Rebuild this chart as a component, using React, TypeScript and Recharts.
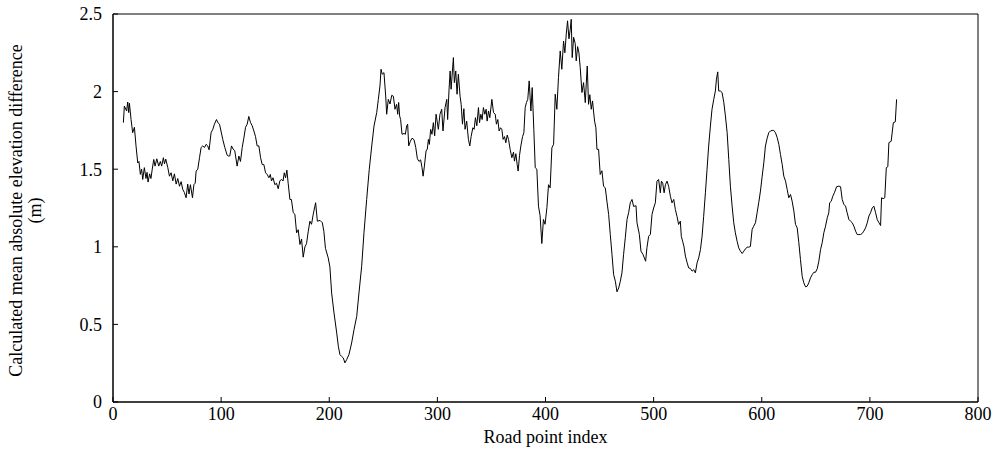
import React from 'react';
import { LineChart, Line, XAxis, YAxis, ReferenceArea } from 'recharts';

// road point index (x) and calculated mean absolute elevation difference in m (y)
const roadPointIndex = [
  9.6, 10.5, 12.6, 13.6, 14.5, 15.2, 16.7, 18.2, 19.8, 21.3, 22.9, 24, 25.3, 26.5, 27.5, 29, 30.5, 31.5, 32.4, 33.9,
  35.1, 36.3, 37.7, 38.9, 40.5, 42.3, 43.8, 45, 46.6, 47.6, 48.8, 50.7, 52.2, 53.7, 55.3, 56.8, 58.4, 59.9, 61.5, 63,
  64.5, 66, 67.6, 69.1, 70.3, 71.6, 73.5, 74.8, 76, 76.9, 78.4, 80, 81.5, 83, 84.6, 86.1, 87.6, 88.9, 90.7, 92.3,
  93.8, 95.7, 97, 98.5, 101.6, 103.4, 105.6, 106.5, 108, 109.6, 111, 112.6, 114.8, 116.4, 117.9, 119.5, 121, 122.6, 124.1, 125.6,
  127.2, 128.7, 130.3, 131.8, 133.3, 134.9, 136.5, 138, 139.5, 141.1, 142.6, 144.2, 145.5, 146.6, 148, 149.7, 151.2, 152.8, 154.3, 155.8,
  157.3, 158.4, 159.6, 160.8, 162, 163.6, 165, 166.7, 168.2, 169.8, 171.3, 172.9, 174.4, 175.9, 177.5, 179, 180.6, 182.1, 183.6, 185.2,
  187.4, 189, 191.5, 193.6, 195, 196.5, 199, 200.6, 202.2, 204.4, 206.9, 208.4, 209.9, 211.4, 213, 214.5, 216.1, 218.2, 220.7, 222.9,
  225.4, 227.5, 230, 232.1, 234.6, 237, 239.3, 241.4, 243.9, 245.4, 246.9, 247.9, 249, 250.6, 252.2, 253.1, 254.6, 256.2, 257.8, 259.3,
  260.8, 262.3, 263.3, 264.2, 265.1, 266, 267.3, 269.2, 270.4, 271.6, 272.5, 273.5, 275, 276.6, 278.4, 280, 281.5, 283, 284.5, 285.8,
  286.8, 288, 289.5, 290.7, 291.7, 292.6, 293.8, 295, 296.3, 297.5, 298.8, 300.9, 302.4, 304, 305.2, 307.1, 308.7, 309.5, 310.8, 311.8,
  312.7, 314.8, 315.7, 317, 318.2, 319.4, 321, 322, 323.2, 324.5, 325.6, 327.1, 328.7, 330, 331.2, 332.8, 334, 335.2, 336.5, 338,
  339, 340.2, 341.4, 342.6, 343.9, 345.1, 346, 347.3, 348.5, 350.4, 351.9, 353.5, 354.6, 355.9, 357.1, 358.4, 359.6, 360.8, 362.1, 363.3,
  364.6, 365.8, 367.3, 368.9, 370.4, 371.3, 372.6, 373.8, 374.7, 376, 377.2, 378.8, 380, 381.2, 382.4, 383.6, 384.9, 386.5, 387.7, 389.2,
  390.5, 392, 393.5, 395, 396.6, 398.1, 399.6, 401.3, 402.8, 404.3, 405.9, 407.5, 409, 410.5, 412, 413.6, 415.1, 416.7, 417.9, 419.2,
  420.4, 421.7, 422.9, 423.8, 424.7, 426, 427.5, 428.4, 429.7, 430.9, 432.1, 433.7, 435.2, 436.8, 437.7, 438.6, 439.8, 441, 442.3, 443.5,
  444.4, 445.4, 446.6, 447.6, 449.1, 450.6, 452.2, 453.7, 455.3, 456.8, 458.4, 459.9, 461.5, 463, 464.6, 466.1, 467.7, 469.2, 470.7, 472.2,
  473.8, 475.4, 476.9, 478.4, 480, 481.5, 483.7, 484.6, 486.8, 488.3, 490.2, 492.6, 493.8, 495.4, 497, 498.5, 500, 501.6, 503.1, 504.6,
  506.2, 507.2, 508.4, 509.7, 510.9, 512.4, 513.9, 515.5, 517, 518.6, 520.1, 521.6, 523.1, 524.7, 525.6, 526.8, 528, 529.4, 531, 532.4,
  534, 535.6, 537.1, 538.6, 540.2, 541.7, 543.3, 544.8, 546.3, 547.9, 549.4, 550.9, 552.5, 554, 555.6, 557.1, 558.1, 559.3, 560.2, 561.7,
  563.3, 564.9, 566.4, 568, 569.5, 571, 572.6, 574.1, 575.6, 577.2, 578.7, 580.3, 581.9, 583.4, 584.9, 586.5, 588, 589.5, 591.1, 592.6,
  594.2, 595.7, 597.2, 598.8, 600.4, 601.9, 603.4, 605, 606.5, 608, 609.6, 611.1, 612.7, 614.3, 615.8, 617.3, 618.9, 620.4, 622, 623.5,
  625, 626.6, 628.1, 629.7, 631.2, 632.8, 634.3, 635.8, 637.4, 638.9, 640.5, 642, 643.5, 645.1, 646.7, 648.2, 649.7, 651.3, 652.8, 654.4,
  655.9, 657.4, 659, 660.6, 662, 662.8, 664.3, 665.7, 667.2, 669.2, 671.3, 672.9, 674.4, 676, 677.5, 679, 680.6, 682.1, 683.7, 685.2,
  686.8, 688.3, 689.8, 691.4, 692.9, 694.4, 696, 697.6, 699.1, 700.6, 702.2, 703.7, 705.3, 706.8, 708.4, 709.9, 710.8, 712.3, 713.8, 715.2,
  716.6, 717.6, 719.7, 721.7, 723.5, 724.7,
];

const meanElevationDiff = [
  1.80, 1.907, 1.875, 1.933, 1.865, 1.925, 1.82, 1.735, 1.77, 1.65, 1.54, 1.55, 1.467, 1.50, 1.434, 1.51, 1.44, 1.48, 1.417, 1.47,
  1.44, 1.50, 1.563, 1.52, 1.567, 1.52, 1.55, 1.52, 1.574, 1.535, 1.565, 1.51, 1.455, 1.477, 1.425, 1.47, 1.404, 1.44, 1.39, 1.42,
  1.37, 1.35, 1.316, 1.404, 1.34, 1.40, 1.316, 1.40, 1.41, 1.488, 1.50, 1.574, 1.64, 1.65, 1.64, 1.66, 1.65, 1.625, 1.735, 1.757,
  1.79, 1.82, 1.80, 1.79, 1.69, 1.64, 1.59, 1.585, 1.585, 1.65, 1.63, 1.62, 1.52, 1.585, 1.55, 1.64, 1.70, 1.77, 1.79, 1.84,
  1.80, 1.78, 1.746, 1.71, 1.65, 1.65, 1.574, 1.53, 1.53, 1.477, 1.466, 1.445, 1.466, 1.424, 1.445, 1.40, 1.41, 1.374, 1.424, 1.435,
  1.424, 1.477, 1.445, 1.494, 1.41, 1.305, 1.305, 1.22, 1.21, 1.09, 1.11, 1.015, 1.05, 0.933, 1.00, 1.02, 1.10, 1.165, 1.145, 1.21,
  1.284, 1.165, 1.17, 1.155, 1.10, 0.99, 0.93, 0.87, 0.703, 0.574, 0.445, 0.359, 0.305, 0.294, 0.284, 0.252, 0.273, 0.305, 0.38, 0.466,
  0.552, 0.703, 0.875, 1.09, 1.305, 1.499, 1.65, 1.778, 1.865, 1.95, 2.036, 2.144, 2.112, 2.122, 1.972, 1.854, 1.95, 1.92, 1.976, 1.97,
  1.886, 1.918, 1.854, 1.93, 1.843, 1.82, 1.725, 1.73, 1.725, 1.778, 1.79, 1.65, 1.68, 1.70, 1.69, 1.64, 1.568, 1.55, 1.56, 1.51,
  1.455, 1.52, 1.617, 1.63, 1.692, 1.66, 1.757, 1.725, 1.80, 1.715, 1.854, 1.757, 1.854, 1.886, 1.746, 1.897, 1.95, 1.82, 2.015, 2.133,
  2.015, 2.219, 2.058, 2.133, 1.983, 2.112, 1.97, 1.918, 1.79, 1.89, 1.757, 1.81, 1.692, 1.65, 1.71, 1.767, 1.757, 1.832, 1.78, 1.897,
  1.80, 1.854, 1.82, 1.897, 1.854, 1.886, 1.81, 1.875, 1.832, 1.95, 1.865, 1.854, 1.79, 1.82, 1.746, 1.767, 1.757, 1.692, 1.71, 1.67,
  1.72, 1.692, 1.628, 1.574, 1.61, 1.552, 1.60, 1.53, 1.488, 1.59, 1.65, 1.71, 1.735, 1.897, 1.93, 1.95, 2.069, 1.875, 2.026, 1.757,
  1.51, 1.50, 1.262, 1.20, 1.021, 1.176, 1.145, 1.252, 1.40, 1.38, 1.638, 1.66, 1.983, 1.886, 2.09, 2.262, 2.144, 2.326, 2.25, 2.37,
  2.456, 2.34, 2.40, 2.466, 2.219, 2.35, 2.31, 2.198, 2.29, 2.25, 2.155, 1.994, 2.058, 1.929, 2.05, 2.165, 1.918, 1.98, 1.886, 1.94,
  1.875, 1.81, 1.767, 1.628, 1.628, 1.466, 1.49, 1.39, 1.38, 1.294, 1.208, 1.08, 0.95, 0.821, 0.778, 0.71, 0.735, 0.778, 0.832, 0.95,
  1.058, 1.176, 1.22, 1.284, 1.305, 1.26, 1.265, 1.155, 1.08, 0.972, 0.95, 0.907, 0.993, 1.068, 1.08, 1.208, 1.25, 1.284, 1.423, 1.434,
  1.348, 1.423, 1.41, 1.348, 1.40, 1.423, 1.39, 1.326, 1.283, 1.305, 1.24, 1.197, 1.144, 1.165, 1.068, 1.036, 1.004, 0.94, 0.897, 0.864,
  0.86, 0.843, 0.853, 0.832, 0.897, 0.929, 0.982, 1.068, 1.197, 1.348, 1.499, 1.649, 1.778, 1.886, 1.95, 2.004, 2.08, 2.127, 2.004, 2.004,
  1.994, 1.93, 1.843, 1.735, 1.563, 1.39, 1.262, 1.155, 1.09, 1.036, 0.993, 0.972, 0.957, 0.972, 0.986, 0.998, 0.998, 1.002, 1.112, 1.133,
  1.155, 1.219, 1.284, 1.359, 1.455, 1.541, 1.649, 1.70, 1.735, 1.746, 1.75, 1.75, 1.735, 1.703, 1.66, 1.595, 1.531, 1.455, 1.423, 1.37,
  1.316, 1.337, 1.294, 1.23, 1.144, 1.122, 1.026, 0.918, 0.81, 0.768, 0.742, 0.746, 0.768, 0.80, 0.821, 0.836, 0.836, 0.858, 0.907, 0.983,
  1.026, 1.09, 1.133, 1.187, 1.219, 1.284, 1.294, 1.326, 1.348, 1.387, 1.391, 1.387, 1.305, 1.273, 1.262, 1.219, 1.176, 1.165, 1.155, 1.133,
  1.101, 1.079, 1.079, 1.079, 1.086, 1.101, 1.122, 1.155, 1.198, 1.219, 1.251, 1.262, 1.219, 1.176, 1.155, 1.137, 1.316, 1.31, 1.316, 1.51,
  1.516, 1.671, 1.68, 1.80, 1.805, 1.95,
];

const xTicks = [0, 100, 200, 300, 400, 500, 600, 700, 800];
const yTicks = [0, 0.5, 1, 1.5, 2, 2.5];
const X_DOMAIN = [0, 800];
const Y_DOMAIN = [0, 2.5];

const data = roadPointIndex.map((idx, i) => ({ idx, diff: meanElevationDiff[i] }));

const FONT = '"Liberation Serif", "Times New Roman", serif';
const tickStyle = { fill: '#000', fontSize: 18, fontFamily: FONT };
const PLOT_TOP = 15;
const PLOT_HEIGHT = 387;

function YTitle() {
  const cy = PLOT_TOP + PLOT_HEIGHT / 2 + 2;
  return (
    <text transform={`translate(22, ${cy}) rotate(-90)`} textAnchor="middle" fill="#000" fontSize={18} fontFamily={FONT}>
      <tspan x={0} y={0}>Calculated mean absolute elevation difference</tspan>
      <tspan x={0} y={19}>(m)</tspan>
    </text>
  );
}

function XTitle(props: any) {
  const { viewBox } = props;
  const cx = viewBox.x + viewBox.width / 2;
  return (
    <text x={cx} y={PLOT_TOP + PLOT_HEIGHT + 41} textAnchor="middle" fill="#000" fontSize={18} fontFamily={FONT}>
      Road point index
    </text>
  );
}

export default function App() {
  return (
    <div style={{ position: 'absolute', left: 0, top: 0, background: '#fff' }}>
      <LineChart width={995} height={460} data={data} margin={{ top: PLOT_TOP - 1, right: 17, left: 0, bottom: 0 }}>
        <XAxis
          xAxisId="main"
          dataKey="idx"
          type="number"
          domain={X_DOMAIN}
          ticks={xTicks}
          height={58}
          tickSize={-5}
          tickMargin={10}
          tick={tickStyle}
          axisLine={{ stroke: '#000' }}
          tickLine={{ stroke: '#000' }}
          label={<XTitle />}
        />
        <XAxis
          xAxisId="top"
          dataKey="idx"
          orientation="top"
          type="number"
          domain={X_DOMAIN}
          ticks={xTicks}
          height={1}
          mirror
          tick={false}
          tickSize={5}
          axisLine={false}
          tickLine={{ stroke: '#000' }}
        />
        <YAxis
          yAxisId="main"
          type="number"
          domain={Y_DOMAIN}
          ticks={yTicks}
          width={113}
          tickSize={-5}
          tickMargin={16}
          tick={tickStyle}
          axisLine={{ stroke: '#000' }}
          tickLine={{ stroke: '#000' }}
          label={<YTitle />}
        />
        <YAxis
          yAxisId="right"
          orientation="right"
          type="number"
          domain={Y_DOMAIN}
          ticks={yTicks}
          width={1}
          mirror
          tick={false}
          tickSize={5}
          axisLine={false}
          tickLine={{ stroke: '#000' }}
        />
        {/* frame round the plot area */}
        <ReferenceArea
          xAxisId="main"
          yAxisId="main"
          x1={X_DOMAIN[0]}
          x2={X_DOMAIN[1]}
          y1={Y_DOMAIN[0]}
          y2={Y_DOMAIN[1]}
          fill="none"
          stroke="#000"
          strokeWidth={1}
          ifOverflow="visible"
        />
        {/* invisible copy so the top / right tick axes get a scale */}
        <Line
          xAxisId="top"
          yAxisId="right"
          type="linear"
          dataKey="diff"
          stroke="none"
          dot={false}
          activeDot={false}
          isAnimationActive={false}
        />
        <Line
          xAxisId="main"
          yAxisId="main"
          type="linear"
          dataKey="diff"
          stroke="#000"
          strokeWidth={1}
          dot={false}
          isAnimationActive={false}
        />
      </LineChart>
    </div>
  );
}
